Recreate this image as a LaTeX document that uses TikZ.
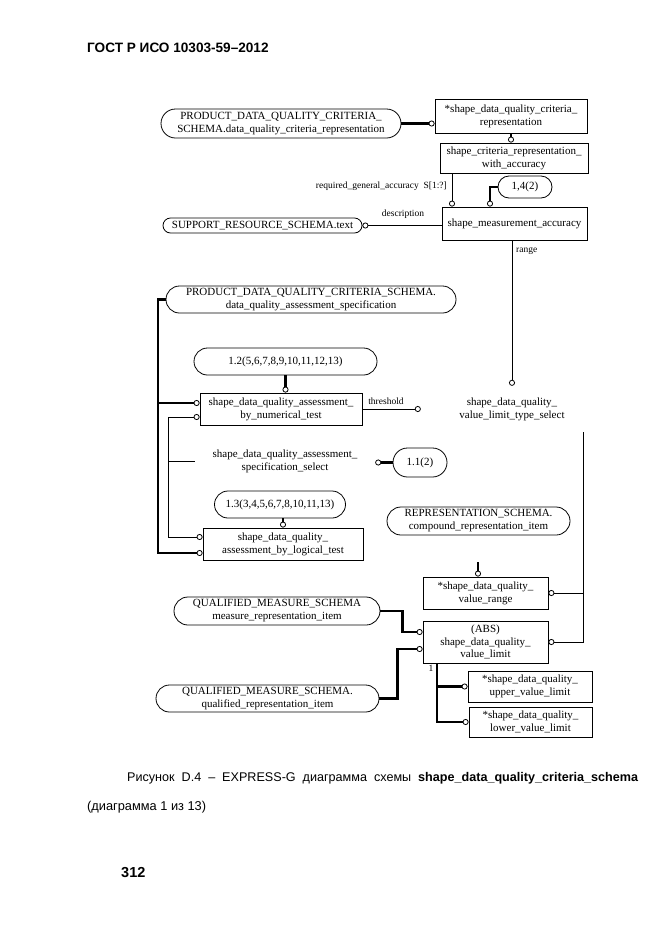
\documentclass[tikz,border=0pt]{standalone}
\usepackage{fontspec}
\setmainfont{Liberation Serif}
\newfontfamily\pagefont{Liberation Sans}
\usetikzlibrary{arrows.meta,shapes.misc}

\begin{document}
\begin{tikzpicture}[x=1pt,y=-1pt,
  entity node/.style={rectangle,draw,line width=0.8pt,inner sep=1pt,align=center,font=\fontsize{11}{13}\selectfont},
  ext node/.style={rounded rectangle,draw,line width=0.8pt,inner sep=1pt,align=center,font=\fontsize{11}{13}\selectfont},
  sel node/.style={inner sep=0pt,align=center,font=\fontsize{11}{13}\selectfont},
  role/.style={inner sep=1pt,font=\fontsize{9.5}{10}\selectfont},
  thin link/.style={line width=0.8pt},
  thick link/.style={line width=2.6pt},
  ring/.tip={Circle[open,length=6pt,width=6pt,line width=0.8pt]}]
\useasboundingbox (0,0) rectangle (661,935);
% page texts
\node [anchor=base west,inner sep=0pt,font=\pagefont\fontsize{13.6}{15}\selectfont\bfseries] (head) at (87,52) {ГОСТ Р ИСО 10303-59–2012};
\node [anchor=base west,inner sep=0pt,font=\pagefont\fontsize{12.6}{14}\selectfont] (cap1) at (127,781) {\makebox[511pt][s]{Рисунок D.4 – EXPRESS-G диаграмма схемы \textbf{shape\_data\_quality\_criteria\_schema}}};
\node [anchor=base west,inner sep=0pt,font=\pagefont\fontsize{12.8}{14}\selectfont] (cap2) at (87,810) {(диаграмма 1 из 13)};
\node [anchor=base west,inner sep=0pt,font=\pagefont\fontsize{14.5}{16}\selectfont\bfseries] (pageno) at (121,877) {312};
% schema boxes
\node [ext node,minimum width=242pt,minimum height=29pt] (pdqc) at (281,123.5) {PRODUCT\_DATA\_QUALITY\_CRITERIA\_\\SCHEMA.data\_quality\_criteria\_representation};
\node [entity node,minimum width=152pt,minimum height=34pt] (sdqcr) at (511,116) {*shape\_data\_quality\_criteria\_\\representation};
\node [entity node,minimum width=148pt,minimum height=30pt] (scrwa) at (514,158) {shape\_criteria\_representation\_\\with\_accuracy};
\node [ext node,minimum width=56pt,minimum height=22pt] (acc14) at (525,187) {1,4(2)};
\node [entity node,minimum width=145pt,minimum height=33pt] (sma) at (514.5,223.5) {shape\_measurement\_accuracy};
\node [ext node,minimum width=201pt,minimum height=15pt] (srs) at (262.5,225.5) {SUPPORT\_RESOURCE\_SCHEMA.text};
\node [ext node,minimum width=292pt,minimum height=27pt] (dqas) at (311,299.5) {PRODUCT\_DATA\_QUALITY\_CRITERIA\_SCHEMA.\\data\_quality\_assessment\_specification};
\node [ext node,minimum width=185pt,minimum height=27pt] (ref12) at (285.5,361.5) {1.2(5,6,7,8,9,10,11,12,13)};
\node [entity node,minimum width=162pt,minimum height=32pt] (numtest) at (281,409) {shape\_data\_quality\_assessment\_\\by\_numerical\_test};
\node [sel node,minimum width=182pt,minimum height=46pt] (vlts) at (512,409) {shape\_data\_quality\_\\value\_limit\_type\_select};
\node [sel node,minimum width=180pt,minimum height=30pt] (specsel) at (285,461) {shape\_data\_quality\_assessment\_\\specification\_select};
\node [ext node,minimum width=56pt,minimum height=29pt] (ref11) at (420,462.5) {1.1(2)};
\node [ext node,minimum width=133pt,minimum height=27pt] (ref13) at (280,504.5) {1.3(3,4,5,6,7,8,10,11,13)};
\node [entity node,minimum width=160pt,minimum height=32pt] (logtest) at (283,544) {shape\_data\_quality\_\\assessment\_by\_logical\_test};
\node [ext node,minimum width=185pt,minimum height=28pt] (rsci) at (478.5,521) {REPRESENTATION\_SCHEMA.\\compound\_representation\_item};
\node [entity node,minimum width=125pt,minimum height=32pt] (vrange) at (485.5,593) {*shape\_data\_quality\_\\value\_range};
\node [ext node,minimum width=208pt,minimum height=28pt] (qmsmri) at (277,611) {QUALIFIED\_MEASURE\_SCHEMA\\measure\_representation\_item};
\node [entity node,minimum width=125pt,minimum height=42pt,font=\fontsize{11}{12.5}\selectfont] (vlimit) at (485.5,642) {(ABS)\\shape\_data\_quality\_\\value\_limit};
\node [ext node,minimum width=225pt,minimum height=27pt] (qmsqri) at (267.5,698.5) {QUALIFIED\_MEASURE\_SCHEMA.\\qualified\_representation\_item};
\node [entity node,minimum width=124pt,minimum height=31pt] (upper) at (530,686.5) {*shape\_data\_quality\_\\upper\_value\_limit};
\node [entity node,minimum width=123pt,minimum height=30pt] (lower) at (530.5,722) {*shape\_data\_quality\_\\lower\_value\_limit};
% attribute names
\node [role,anchor=east] (reqacc) at (448,186) {required\_general\_accuracy\ \ S[1:?]};
\node [role] (descr) at (403,214) {description};
\node [role,anchor=west] (rng) at (515,251) {range};
\node [role] (thr) at (386,401) {threshold};
\node [role] (one) at (431,668) {1};
% free ends
\coordinate (spine) at (158,299.5);
\coordinate (selbus) at (168,461);
\coordinate (rbus) at ([xshift=71pt]vlts.south);
\coordinate (rangetop) at (478,562);
\coordinate (limroot) at ([xshift=-48.5pt]vlimit.south);
% links
\draw [thick link,-ring] (pdqc.east) -- (pdqc.east -| sdqcr.west);
\draw [thick link,-ring] (sdqcr.south) -- (sdqcr.south |- scrwa.north);
\draw [thin link,-ring] ([xshift=-62pt]scrwa.south) -- ([xshift=-62pt]scrwa.south |- sma.north);
\draw [thick link,-ring] (acc14.west) -| ([xshift=-24.5pt]sma.north);
\draw [thin link,-ring] (sma.west |- srs.east) -- (srs.east);
\draw [thin link,-ring] (vlts.north |- sma.south) -- (vlts.north);
\draw [thin link,-ring] (numtest.east) -- (numtest.east -| vlts.west);
\draw [thick link,-ring] (ref12.south) -- (ref12.south |- numtest.north);
\draw [thick link,-ring] (dqas.west) -- (spine) |- ([yshift=-9pt]logtest.west);
\draw [thick link,-ring] ([yshift=6pt]numtest.west -| spine) -- ([yshift=6pt]numtest.west);
\draw [thin link] (specsel.west) -- (selbus);
\draw [thin link,-ring] (selbus) |- ([yshift=-8pt]numtest.west);
\draw [thin link,-ring] (selbus) |- ([yshift=7pt]logtest.west);
\draw [thick link,-ring] (ref11.west) -- (ref11.west -| specsel.east);
\draw [thick link,-ring] ([xshift=3pt]ref13.south) -- ([xshift=3pt]ref13.south |- logtest.north);
\draw [thick link,-ring] (rangetop) -- (rangetop |- vrange.north);
\draw [thin link,-ring] (rbus) |- (vlimit.east);
\draw [thin link,-ring] (vrange.east -| rbus) -- (vrange.east);
\draw [thick link,-ring] (qmsmri.east) -- ++(22,0) |- ([yshift=10pt]vlimit.west);
\draw [thick link,-ring] (qmsqri.east) -- ++(18,0) |- ([yshift=-7pt]vlimit.west);
\draw [thick link,-ring] (limroot) |- (upper.west);
\draw [thick link,-ring] (limroot) |- (lower.west);
\end{tikzpicture}
\end{document}
